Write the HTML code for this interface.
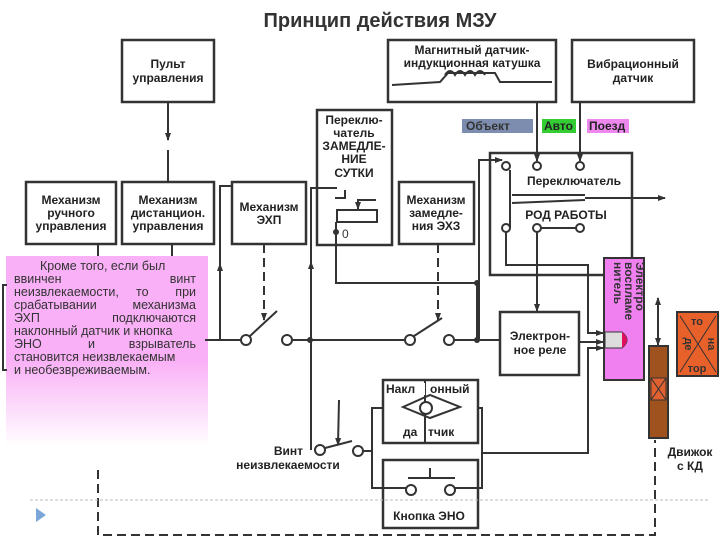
<!DOCTYPE html>
<html><head><meta charset="utf-8"><style>
body{margin:0;background:#fff}
svg{display:block;font-family:"Liberation Sans","DejaVu Sans",sans-serif}
.b{fill:#fff;stroke:#333;stroke-width:2.5}
.l{stroke:#333;stroke-width:2;fill:none}
.d{stroke:#333;stroke-width:2;fill:none;stroke-dasharray:9 5}
.c{fill:#fff;stroke:#333;stroke-width:2}
.t{font-size:12px;font-weight:bold;fill:#222;text-anchor:middle}
</style></head><body>
<svg width="720" height="540" viewBox="0 0 720 540">
<defs>
<marker id="a" markerUnits="userSpaceOnUse" markerWidth="8" markerHeight="8" refX="7" refY="4" orient="auto"><path d="M0,1 L8,4 L0,7 z" fill="#333"/></marker>
<linearGradient id="pg" x1="0" y1="0" x2="0" y2="1"><stop offset="0.55" stop-color="#f9b0f6"/><stop offset="1" stop-color="#fff"/></linearGradient>
</defs>
<text x="380" y="27" font-size="20" font-weight="bold" text-anchor="middle" fill="#333">Принцип действия МЗУ</text>

<rect x="6" y="256" width="202" height="190" fill="url(#pg)"/>
<path d="M7,285 L3,285 L3,370 L7,370" class="l"/>

<rect class="b" x="122" y="40" width="92" height="62"/>
<text class="t" x="168" y="68">Пульт</text><text class="t" x="168" y="82">управления</text>
<rect class="b" x="388" y="40" width="168" height="62"/>
<text class="t" x="472" y="54">Магнитный датчик-</text><text class="t" x="472" y="67">индукционная катушка</text>
<path class="l" d="M392,85 L440,82 L448,73 L495,73 L500,82 L552,82"/>
<path class="l" stroke-width="3" d="M445,75 q5,-8 10,0 q5,-8 10,0 q5,-8 10,0 q5,-8 10,0"/>
<rect class="b" x="572" y="40" width="122" height="62"/>
<text class="t" x="633" y="68">Вибрационный</text><text class="t" x="633" y="82">датчик</text>

<rect class="b" x="317" y="110" width="75" height="135"/>
<text class="t" x="354" y="124">Переклю-</text><text class="t" x="354" y="137">чатель</text>
<text class="t" x="354" y="150">ЗАМЕДЛЕ-</text><text class="t" x="354" y="163">НИЕ</text><text class="t" x="354" y="177">СУТКИ</text>
<path class="l" d="M335,198 L345,198 L345,190"/>
<rect class="c" x="337" y="210" width="40" height="12"/>
<path class="l" d="M376,200 L358,200 L358,209" marker-end="url(#a)"/>
<text x="342" y="238" font-size="12" fill="#333">0</text>

<rect class="b" x="26" y="182" width="90" height="62"/>
<text class="t" x="71" y="204">Механизм</text><text class="t" x="71" y="217">ручного</text><text class="t" x="71" y="230">управления</text>
<rect class="b" x="122" y="182" width="92" height="62"/>
<text class="t" x="168" y="204">Механизм</text><text class="t" x="168" y="217">дистанцион.</text><text class="t" x="168" y="230">управления</text>
<rect class="b" x="232" y="182" width="74" height="62"/>
<text class="t" x="269" y="211">Механизм</text><text class="t" x="269" y="224">ЭХП</text>
<rect class="b" x="399" y="182" width="75" height="62"/>
<text class="t" x="436" y="204">Механизм</text><text class="t" x="436" y="217">замедле-</text><text class="t" x="436" y="230">ния ЭХЗ</text>

<rect x="462" y="119" width="71" height="14" fill="#7d8db0"/><text x="466" y="130" font-size="12" font-weight="bold" fill="#333">Объект</text>
<rect x="542" y="119" width="34" height="14" fill="#33cc33"/><text x="544" y="130" font-size="12" font-weight="bold" fill="#222">Авто</text>
<rect x="587" y="119" width="42" height="14" fill="#ee88ee"/><text x="589" y="130" font-size="12" font-weight="bold" fill="#222">Поезд</text>

<rect class="b" x="490" y="153" width="142" height="122"/>
<text class="t" x="574" y="185">Переключатель</text>
<text class="t" x="566" y="219">РОД РАБОТЫ</text>
<path class="l" stroke-width="4" d="M510,170 L510,228"/>
<path class="l" d="M512,195 L585,195 M512,203 L585,200"/>
<path class="l" d="M585,198 L665,198" marker-end="url(#a)"/>
<path class="l" d="M537,102 L537,161" marker-end="url(#a)"/>
<path class="l" d="M580,102 L580,161" marker-end="url(#a)"/>
<path class="l" d="M479,340 L479,160 L502,160" marker-end="url(#a)"/>
<circle class="c" cx="506" cy="166" r="4"/><circle class="c" cx="537" cy="166" r="4"/><circle class="c" cx="580" cy="166" r="4"/>
<circle class="c" cx="506" cy="228" r="4"/><circle class="c" cx="537" cy="228" r="4"/><circle class="c" cx="580" cy="228" r="4"/>
<path class="l" d="M541,228 L576,228"/>
<path class="l" d="M506,232 L506,265 L588,265 L588,333 L603,333" marker-end="url(#a)"/>
<path class="l" d="M537,232 L537,311" marker-end="url(#a)"/>

<path class="l" d="M168,102 L168,140" marker-end="url(#a)"/>
<path class="l" d="M168,150 L168,182"/>
<path class="l" d="M98,244 L98,256 M172,244 L172,256"/>

<path class="l" d="M205,340 L242,340 M291,340 L405,340 M453,340 L500,340"/>
<path class="l" d="M220,340 L220,186 L232,186"/>
<path class="l" d="M220,340 L220,264" marker-end="url(#a)"/>
<path class="l" d="M311,450 L311,188 L337,188"/>
<path class="l" d="M311,340 L311,262" marker-end="url(#a)"/>
<circle class="c" cx="246" cy="340" r="5"/><path class="l" d="M250,336 L277,311"/>
<circle class="c" cx="287" cy="340" r="5"/>
<circle cx="310" cy="340" r="3" fill="#333"/>
<path class="d" d="M264,244 L264,320" marker-end="url(#a)"/>
<circle class="c" cx="410" cy="340" r="5"/><path class="l" d="M414,336 L442,318"/>
<circle class="c" cx="449" cy="340" r="5"/>
<circle cx="477" cy="340" r="3" fill="#333"/>
<path class="d" d="M438,244 L438,320" marker-end="url(#a)"/>
<path class="l" d="M336,222 L336,283 L477,283 L477,340"/>
<circle cx="336" cy="232" r="3" fill="#333"/>
<circle cx="477" cy="283" r="3" fill="#333"/>

<rect class="b" x="500" y="312" width="79" height="63"/>
<text class="t" x="540" y="340">Электрон-</text><text class="t" x="540" y="354">ное реле</text>
<path class="l" d="M579,342 L603,342" marker-end="url(#a)"/>
<path class="l" d="M482,453 L588,453 L588,348 L603,348" marker-end="url(#a)"/>

<rect x="604" y="258" width="40" height="122" fill="#f080f0" stroke="#333" stroke-width="2"/>
<text transform="translate(636,262) rotate(90)" font-size="12" font-weight="bold" fill="#333">Электро</text>
<text transform="translate(625,262) rotate(90)" font-size="12" font-weight="bold" fill="#333">воспламе</text>
<text transform="translate(614,262) rotate(90)" font-size="12" font-weight="bold" fill="#333">нитель</text>
<path d="M605,332 L622,332 Q632,340 622,348 L605,348 z" fill="#ddd" stroke="#333"/>
<path d="M622,332 Q632,340 622,348 z" fill="#e01060"/>

<path class="l" d="M658,300 L658,345" marker-end="url(#a)"/>
<path class="l" d="M658,340 L658,298" marker-end="url(#a)"/>
<rect x="649" y="346" width="19" height="92" fill="#a0521e" stroke="#333" stroke-width="2"/>
<rect x="651" y="378" width="15" height="22" fill="#e06030" stroke="#333"/>
<path d="M651,378 L666,400 M666,378 L651,400" stroke="#333"/>
<text class="t" x="690" y="456">Движок</text><text class="t" x="690" y="470">с КД</text>
<rect x="677" y="312" width="41" height="64" fill="#e8602a" stroke="#333" stroke-width="2"/>
<path d="M680,316 L716,372 M716,316 L680,372" stroke="#333"/>
<text x="697" y="325" font-size="11" font-weight="bold" fill="#333" text-anchor="middle">то</text>
<text x="697" y="372" font-size="11" font-weight="bold" fill="#333" text-anchor="middle">тор</text>
<text transform="translate(685,344) rotate(90)" font-size="11" font-weight="bold" fill="#333" text-anchor="middle">де</text>
<text transform="translate(708,344) rotate(90)" font-size="11" font-weight="bold" fill="#333" text-anchor="middle">на</text>

<rect class="b" x="383" y="380" width="95" height="63"/>
<path class="l" d="M425,380 L425,443"/>
<path class="l" d="M403,407 L430,395 L460,407 L430,418 z"/>
<circle class="c" cx="426" cy="408" r="6"/>
<rect x="385" y="383" width="40" height="12" fill="#fff"/>
<text x="386" y="393" font-size="12" font-weight="bold" fill="#222">Накл</text>
<text x="430" y="393" font-size="12" font-weight="bold" fill="#222">онный</text>
<text x="403" y="436" font-size="12" font-weight="bold" fill="#222">да</text><text x="428" y="436" font-size="12" font-weight="bold" fill="#222">тчик</text>
<rect class="b" x="383" y="460" width="95" height="68"/>
<path class="l" stroke-width="3" d="M408,478 L455,478 M430,468 L430,478"/>
<circle class="c" cx="411" cy="490" r="5"/><circle class="c" cx="450" cy="490" r="5"/>
<text class="t" x="429" y="520">Кнопка  ЭНО</text>
<path class="l" d="M383,408 L372,408 L372,488 L406,488 M455,488 L482,488 L482,408 L478,408"/>

<circle class="c" cx="320" cy="450" r="5"/><path class="l" d="M325,448 L352,441"/>
<circle class="c" cx="358" cy="451" r="5"/>
<path class="l" d="M363,451 L372,451"/>
<path class="l" d="M339,400 L338,445" marker-end="url(#a)"/>
<text x="303" y="455" font-size="12" font-weight="bold" fill="#222" text-anchor="end">Винт</text>
<text x="288" y="469" font-size="12" font-weight="bold" fill="#222" text-anchor="middle">неизвлекаемости</text>

<path class="d" d="M98,470 L98,535 L655,535 L655,440"/>
<path d="M30,500 L710,500" stroke="#bbb" stroke-width="1" stroke-dasharray="3 2"/>
<path d="M36,508 L46,515 L36,522 z" fill="#7aa7d8"/>

<g font-size="12.5" fill="#333">
<text x="40" y="270">Кроме того, если был</text>
<text x="14" y="283">ввинчен</text><text x="196" y="283" text-anchor="end">винт</text>
<text x="14" y="296">неизвлекаемости,</text><text x="136" y="296">то</text><text x="196" y="296" text-anchor="end">при</text>
<text x="14" y="309">срабатывании</text><text x="196" y="309" text-anchor="end">механизма</text>
<text x="14" y="322">ЭХП</text><text x="196" y="322" text-anchor="end">подключаются</text>
<text x="14" y="335">наклонный датчик и кнопка</text>
<text x="14" y="348">ЭНО</text><text x="88" y="348">и</text><text x="196" y="348" text-anchor="end">взрыватель</text>
<text x="14" y="361">становится неизвлекаемым</text>
<text x="14" y="374">и необезвреживаемым.</text>
</g>
</svg>
</body></html>
